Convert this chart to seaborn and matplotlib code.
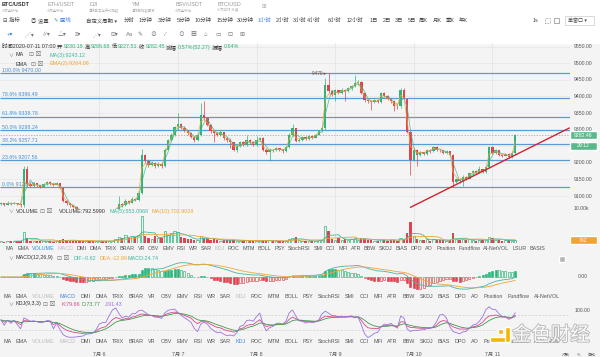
import numpy as np
import pandas as pd
import matplotlib
matplotlib.use("Agg")
import matplotlib.pyplot as plt
import matplotlib.patheffects as pe
from matplotlib.patches import Rectangle
import seaborn as sns

# hourly BTC/USDT candles, 2020-07-04 18:00 -> 2020-07-11 07:00
opens = [9076, 9078, 9074, 9080, 9076, 9079, 9075, 9072, 9180, 9135,
         9130, 9138, 9132, 9128, 9135, 9142, 9136, 9134, 9138, 9124,
         9085, 9078, 9072, 9068, 9058, 9052, 9048, 9055, 9050, 9045,
         9050, 9056, 9052, 9048, 9054, 9058, 9062, 9075, 9072, 9085,
         9080, 9092, 9088, 9110, 9225, 9205, 9195, 9200, 9192, 9198,
         9190, 9240, 9268, 9285, 9308, 9318, 9306, 9298, 9290, 9278,
         9270, 9285, 9345, 9335, 9315, 9295, 9290, 9285, 9292, 9275,
         9270, 9262, 9240, 9250, 9262, 9255, 9270, 9262, 9255, 9270,
         9274, 9240, 9234, 9240, 9238, 9244, 9240, 9236, 9248, 9285,
         9305, 9265, 9270, 9278, 9272, 9280, 9276, 9285, 9298, 9305,
         9435, 9415, 9405, 9418, 9410, 9420, 9415, 9425, 9430, 9440,
         9445, 9410, 9388, 9385, 9383, 9388, 9384, 9410, 9402, 9392,
         9385, 9372, 9370, 9420, 9392, 9293, 9210, 9240, 9225, 9232,
         9228, 9240, 9236, 9248, 9240, 9238, 9230, 9235, 9225, 9143,
         9150, 9145, 9158, 9152, 9168, 9175, 9170, 9180, 9172, 9188,
         9248, 9230, 9238, 9225, 9222, 9228, 9218, 9230.18]
highs = [9082, 9080, 9084, 9082, 9083, 9080, 9077, 9192, 9190, 9140,
         9142, 9140, 9134, 9140, 9146, 9144, 9140, 9142, 9140, 9126,
         9088, 9080, 9074, 9070, 9060, 9056, 9058, 9057, 9052, 9054,
         9059, 9058, 9054, 9057, 9060, 9065, 9100, 9080, 9090, 9088,
         9096, 9094, 9114, 9242, 9228, 9208, 9205, 9202, 9202, 9200,
         9244, 9272, 9290, 9312, 9350, 9320, 9310, 9300, 9292, 9282,
         9290, 9380, 9385, 9338, 9318, 9298, 9294, 9298, 9294, 9279,
         9274, 9264, 9254, 9266, 9265, 9285, 9272, 9265, 9280, 9278,
         9278, 9244, 9244, 9243, 9248, 9246, 9242, 9252, 9290, 9318,
         9306, 9274, 9282, 9280, 9284, 9282, 9288, 9300, 9310, 9455,
         9470, 9420, 9422, 9420, 9424, 9422, 9428, 9434, 9465, 9450,
         9448, 9412, 9392, 9388, 9392, 9390, 9414, 9412, 9404, 9394,
         9388, 9376, 9425, 9424, 9395, 9296, 9244, 9242, 9236, 9234,
         9243, 9242, 9250, 9250, 9243, 9240, 9238, 9236, 9226, 9153,
         9155, 9162, 9160, 9170, 9178, 9178, 9190, 9182, 9190, 9252,
         9250, 9242, 9240, 9228, 9230, 9230, 9232, 9286.68]
lows = [9072, 9070, 9072, 9074, 9075, 9072, 9068, 9068, 9128, 9126,
        9128, 9128, 9124, 9126, 9133, 9132, 9130, 9132, 9120, 9082,
        9074, 9068, 9064, 9054, 9048, 9044, 9046, 9046, 9040, 9042,
        9048, 9049, 9044, 9046, 9052, 9056, 9060, 9066, 9070, 9076,
        9078, 9084, 9086, 9106, 9200, 9188, 9192, 9186, 9188, 9184,
        9188, 9238, 9265, 9282, 9300, 9302, 9294, 9284, 9274, 9262,
        9266, 9282, 9330, 9310, 9290, 9262, 9280, 9282, 9270, 9264,
        9245, 9236, 9232, 9248, 9250, 9252, 9258, 9250, 9252, 9266,
        9236, 9228, 9206, 9234, 9236, 9236, 9230, 9234, 9244, 9282,
        9262, 9262, 9266, 9268, 9270, 9272, 9274, 9283, 9294, 9300,
        9410, 9400, 9385, 9406, 9406, 9385, 9412, 9420, 9428, 9436,
        9406, 9384, 9380, 9360, 9380, 9380, 9380, 9398, 9388, 9380,
        9355, 9362, 9366, 9388, 9290, 9162, 9205, 9190, 9220, 9224,
        9225, 9230, 9232, 9236, 9234, 9226, 9226, 9220, 9127, 9138,
        9140, 9130, 9148, 9150, 9164, 9166, 9168, 9168, 9170, 9186,
        9226, 9228, 9220, 9218, 9220, 9214, 9216, 9227.51]
closes = [9078, 9074, 9080, 9076, 9079, 9075, 9072, 9180, 9135, 9130,
          9138, 9132, 9128, 9135, 9142, 9136, 9134, 9138, 9124, 9085,
          9078, 9072, 9068, 9058, 9052, 9048, 9055, 9050, 9045, 9050,
          9056, 9052, 9048, 9054, 9058, 9062, 9075, 9072, 9085, 9080,
          9092, 9088, 9110, 9225, 9205, 9195, 9200, 9192, 9198, 9190,
          9240, 9268, 9285, 9308, 9318, 9306, 9298, 9290, 9278, 9270,
          9285, 9345, 9335, 9315, 9295, 9290, 9285, 9292, 9275, 9270,
          9262, 9240, 9250, 9262, 9255, 9270, 9262, 9255, 9270, 9274,
          9240, 9234, 9240, 9238, 9244, 9240, 9236, 9248, 9285, 9305,
          9265, 9270, 9278, 9272, 9280, 9276, 9285, 9298, 9305, 9435,
          9415, 9405, 9418, 9410, 9420, 9415, 9425, 9430, 9440, 9445,
          9410, 9388, 9385, 9383, 9388, 9384, 9410, 9402, 9392, 9385,
          9372, 9370, 9420, 9392, 9293, 9210, 9240, 9225, 9232, 9228,
          9240, 9236, 9248, 9240, 9238, 9230, 9235, 9225, 9143, 9150,
          9145, 9158, 9152, 9168, 9175, 9170, 9180, 9172, 9188, 9248,
          9230, 9238, 9225, 9222, 9228, 9218, 9230.18, 9282.45]
volumes = [520, 380, 610, 450, 700, 520, 480, 3150, 1600, 720,
           540, 610, 480, 520, 690, 560, 430, 510, 880, 1270,
           780, 540, 620, 700, 560, 480, 650, 520, 590, 610,
           480, 560, 670, 520, 610, 1300, 1900, 1400, 2300, 1500,
           2200, 1700, 2500, 7900, 2000, 1500, 1300, 2100, 1400, 1600,
           3500, 2400, 2800, 3500, 3300, 1800, 1400, 1100, 1300, 1000,
           900, 2100, 1600, 1200, 900, 1100, 800, 700, 900, 750,
           820, 1000, 700, 650, 600, 800, 560, 620, 700, 540,
           900, 700, 820, 480, 520, 450, 600, 700, 1300, 1500,
           1700, 800, 650, 560, 600, 520, 700, 850, 900, 5000,
           3500, 1300, 900, 1600, 800, 1100, 900, 1200, 1500, 1000,
           1400, 1200, 800, 900, 600, 700, 1300, 800, 700, 900,
           1000, 700, 1600, 1200, 2900, 6300, 2200, 1100, 800, 1000,
           1300, 700, 1100, 800, 900, 750, 600, 850, 2800, 1300,
           900, 1100, 800, 1200, 1000, 700, 900, 800, 1000, 1800,
           1400, 900, 800, 700, 750, 820, 600, 792.6]

fib_labels = ["100.0%", "78.6%", "61.8%", "50.0%", "38.2%", "23.6%", "0.0%"]
fib_prices = [9470.00, 9396.49, 9338.78, 9298.24, 9257.71, 9207.56, 9126.49]
trend_x = [125, 173.5]
trend_y = [9066, 9305]
day_pos = [30, 54, 78, 102, 126, 150]
day_labels = ["7月 6", "7月 7", "7月 8", "7月 9", "7月 10", "7月 11"]
price_ticks = [9550, 9500, 9450, 9400, 9350, 9300, 9250, 9200, 9150, 9100]
price_labels_shown = [9550, 9500, 9450, 9400, 9350, 9300, 9200, 9150, 9100]  # 9250 sits under the timer tag
last_price = 9282.46

ind_names = ["MA", "EMA", "VOLUME", "MACD", "DMI", "DMA", "TRIX", "BRAR", "VR", "OBV",
             "EMV", "RSI", "WR", "SAR", "KDJ", "ROC", "MTM", "BOLL", "PSY", "StochRSI",
             "SMI", "CCI", "MFI", "ATR", "BBW", "SKDJ", "BIAS", "DPO", "AO", "Position",
             "Fundflow", "AI-NetVOL"]
ind_extra = ["LSUR", "BASIS"]

sns.set_style("white")
plt.rcParams["font.family"] = ["Liberation Sans", "Noto Sans CJK SC", "DejaVu Sans"]
plt.rcParams["axes.unicode_minus"] = False

GREEN = "#2db57a"
RED = "#e0434f"
TEAL = "#3fb8a0"
ORANGE = "#f0a531"
FIB = "#5b9bd5"
TXT = "#333333"
GREY = "#777777"

# ---- indicators ----
df = pd.DataFrame({"o": opens, "h": highs, "l": lows, "c": closes, "v": volumes})
df["x"] = np.arange(len(df))
df["ma3"] = df["c"].rolling(3).mean()
df["ema2"] = df["c"].ewm(span=2, adjust=False).mean()
df["vma5"] = df["v"].rolling(5).mean()
df["vma10"] = df["v"].rolling(10).mean()
df["dif"] = df["c"].ewm(span=12, adjust=False).mean() - df["c"].ewm(span=26, adjust=False).mean()
df["dea"] = df["dif"].ewm(span=9, adjust=False).mean()
df["macd"] = 2 * (df["dif"] - df["dea"])
llv = df["l"].rolling(9, min_periods=1).min()
hhv = df["h"].rolling(9, min_periods=1).max()
rsv = (df["c"] - llv) / (hhv - llv) * 100
df["k"] = rsv.ewm(alpha=1 / 3, adjust=False).mean()
df["d"] = df["k"].ewm(alpha=1 / 3, adjust=False).mean()
df["j"] = 3 * df["k"] - 2 * df["d"]
up = df["c"] >= df["o"]
xs = df["x"]

W, H = 600, 357
XMIN, XMAX = -0.3, 173.7
fig = plt.figure(figsize=(6, 3.57), dpi=100, facecolor="#f4f4f4")


def box(x0, y0, x1, y1):
    ax = fig.add_axes([x0 / W, 1 - y1 / H, (x1 - x0) / W, (y1 - y0) / H])
    ax.set_facecolor("none")
    for s in ax.spines.values():
        s.set_visible(False)
    ax.tick_params(left=False, bottom=False, labelleft=False, labelbottom=False)
    return ax


def T(x, y, s, size=3.9, color=TXT, ha="left", va="center", **kw):
    return fig.text(x / W, 1 - y / H, s, fontsize=size, color=color, ha=ha, va=va, **kw)


def rect(x0, y0, x1, y1, color, z=-1, **kw):
    fig.add_artist(Rectangle((x0 / W, 1 - y1 / H), (x1 - x0) / W, (y1 - y0) / H,
                             transform=fig.transFigure, facecolor=color, zorder=z, **kw))


def seq(x, y, parts, size=3.9, gap=1.5):
    r = fig.canvas.get_renderer()
    for s, col in parts:
        t = T(x, y, s, size, col)
        x += t.get_window_extent(r).width + gap
    return x


def spread_row(y, words, x0, x1, active, size=3.9):
    r = fig.canvas.get_renderer()
    dim = {"VOLUME", "MACD", "KDJ"} - {active}
    ts = []
    for w in words:
        col = "#3d85e0" if w == active else ("#bbbbbb" if w in dim else "#555555")
        ts.append(T(0, y, w, size, col))
    widths = [t.get_window_extent(r).width for t in ts]
    gap = (x1 - x0 - sum(widths)) / (len(words) - 1)
    x = x0
    for t, w in zip(ts, widths):
        t.set_x(x / W)
        x += w + gap


# ---- header (white toolbar) ----
rect(0, 0, 600, 43, "white")
rect(0, 14, 600, 14.5, "#e6e6e6")
rect(0, 27, 600, 27.5, "#eeeeee")
tabs = [("BTC/USDT", "火币全球站", 2), ("ETH/USDT", "火币全球站", 47), ("DJI", "道琼斯工业平均指数", 89),
        ("YM", "道琼斯指数期货", 132), ("BSV/USDT", "火币全球站", 175), ("BTC/USD", "火币合约 永续", 217)]
for n, (name, sub, x) in enumerate(tabs):
    T(x, 4.5, name, 4, TXT if n == 0 else "#999999", weight="bold" if n == 0 else "normal")
    T(x, 10.5, sub, 2.4, "#aaaaaa")
T(262, 6, "⊞", 4, "#aaaaaa")

periods = [("⊟ 指标", 3), ("◎ 设置", 31), ("✎ 画线", 54), ("自定义周期 ▾", 86), ("分时", 124),
           ("1分钟", 139), ("3分钟", 158), ("5分钟", 177), ("10分钟", 195), ("15分钟", 217),
           ("30分钟", 237), ("1小时", 258), ("2小时", 276), ("3小时", 293), ("4小时", 307),
           ("6小时", 328), ("12小时", 347), ("1日", 370), ("2日", 383), ("3日", 395), ("5日", 408),
           ("周K", 419), ("月K", 433), ("季K", 446), ("年K", 459), ("1s", 533)]
for s, x in periods:
    T(x, 20.5, s, 3.9, "#3d85e0" if s in ("✎ 画线", "1小时") else "#444444")
# fullscreen / window icons as small outlined squares
rect(545, 18, 550, 23, "none", z=1, edgecolor="#888888", linewidth=0.5, linestyle=(0, (1, 1)))
rect(554, 18, 559, 23, "none", z=1, edgecolor="#888888", linewidth=0.5)
rect(565, 16, 594, 25, "white", z=1, edgecolor="#cccccc", linewidth=0.5)
T(568, 20.5, "单窗口 ▾", 3.6, "#444444")

tools = [("+▾", 7, "#3d85e0"), ("╱▾", 25, GREY), ("∥▾", 42, GREY), ("△▾", 58, GREY), ("≡▾", 75, GREY),
         ("⋰▾", 92, GREY), ("⊟▾", 110, GREY), ("Aa", 126, GREY), ("✎", 137, GREY), ("⊘", 150, GREY),
         ("∕", 164, GREY), ("⊙", 178, GREY), ("▦", 190, GREY), ("⌂", 203, GREY), ("▭", 215, GREY),
         ("⊡", 227, GREY), ("⊞", 239, GREY)]
for s, x, c in tools:
    T(x, 34.5, s, 4.2, c)

# ---- main price panel ----
ax = box(0, 43, 570, 209)
ax.hlines(price_ticks, XMIN, XMAX, color="#e6e6e6", lw=0.5, zorder=0)
ax.vlines(day_pos, 9000, 9600, color="#e2e2e2", lw=0.5, zorder=0)
ax.hlines(fib_prices, XMIN, XMAX, color=FIB, lw=0.9, zorder=1)
for lab, p in zip(fib_labels, fib_prices):
    ax.text(XMIN + 0.5, p + 2, f"{lab} {p:.2f}", fontsize=3.8, color="#4a8fd6", va="bottom", zorder=2)
ax.axhline(last_price, color="#a0a0a0", lw=0.5, ls=(0, (2, 2)), zorder=1)
cols = np.where(up, GREEN, RED)
ax.vlines(xs, df["l"], df["h"], colors=cols, lw=0.5, zorder=3)
body = (df["c"] - df["o"]).abs().clip(lower=1.5)
ax.bar(xs, body, bottom=df[["o", "c"]].min(axis=1), width=0.72, color=cols, linewidth=0, zorder=3)
sns.lineplot(x=xs, y=df["ma3"], ax=ax, color=TEAL, lw=0.6, alpha=0.8, zorder=4)
sns.lineplot(x=xs, y=df["ema2"], ax=ax, color=ORANGE, lw=0.6, alpha=0.8, zorder=4)
sns.lineplot(x=trend_x, y=trend_y, ax=ax, color="#cc2536", lw=1.0, zorder=5)
ax.text(99.3, 9470, "9470 ▸", fontsize=3.4, color="#555555", ha="right", va="center")
ax.set(xlabel="", ylabel="", xlim=(XMIN, XMAX), ylim=(9061, 9561))

# ---- volume ----
axv = box(0, 209, 570, 243)
axv.vlines(day_pos, 0, 12000, color="#e2e2e2", lw=0.5, zorder=0)
axv.bar(xs[up], df["v"][up], width=0.7, facecolor="none", edgecolor=GREEN, linewidth=0.5)
axv.bar(xs[~up], df["v"][~up], width=0.7, color=RED, linewidth=0)
sns.lineplot(x=xs, y=df["vma5"], ax=axv, color=TEAL, lw=0.6)
sns.lineplot(x=xs, y=df["vma10"], ax=axv, color=ORANGE, lw=0.6)
axv.set(xlabel="", ylabel="", xlim=(XMIN, XMAX), ylim=(0, 10000))

# ---- MACD ----
axm = box(0, 262, 570, 292)
hist = df["macd"]
grow = hist.abs() >= hist.shift(1).fillna(0).abs()
for mask, fc, ec in [((hist >= 0) & grow, GREEN, GREEN), ((hist >= 0) & ~grow, "none", GREEN),
                     ((hist < 0) & grow, RED, RED), ((hist < 0) & ~grow, "none", RED)]:
    axm.bar(xs[mask], hist[mask], width=0.62, facecolor=fc, edgecolor=ec, linewidth=0.45)
sns.lineplot(x=xs, y=df["dif"], ax=axm, color=TEAL, lw=0.6)
sns.lineplot(x=xs, y=df["dea"], ax=axm, color=ORANGE, lw=0.6)
m = max(df["dif"].abs().max(), df["dea"].abs().max(), hist.abs().max()) * 1.05
axm.set(xlabel="", ylabel="", xlim=(XMIN, XMAX), ylim=(-m, m))

# ---- KDJ ----
axk = box(0, 305, 570, 338)
axk.hlines([80, 20], XMIN, XMAX, color="#d0d0d0", lw=0.5, ls=(0, (3, 2)))
sns.lineplot(x=xs, y=df["k"], ax=axk, color="#d9468a", lw=0.6)
sns.lineplot(x=xs, y=df["d"], ax=axk, color="#3f9a4a", lw=0.6)
sns.lineplot(x=xs, y=df["j"], ax=axk, color="#9d70e0", lw=0.6)
axk.set(xlabel="", ylabel="", xlim=(XMIN, XMAX), ylim=(-12, 120))
axk.set_xticks(day_pos)
axk.set_xticklabels(day_labels)
axk.tick_params(axis="x", labelbottom=True, bottom=False, pad=6.3, labelsize=3.8, labelcolor="#555555")

# ---- legends / info ----
seq(2, 47, [("时间2020-07-11 07:00", TXT), ("开", TXT), ("9230.18", GREEN), ("高", TXT), ("9286.68", GREEN),
            ("低", TXT), ("9227.51", GREEN), ("收", TXT), ("9282.45", GREEN), ("涨幅", TXT),
            ("0.57%(52.27)", GREEN), ("振幅", TXT), ("0.64%", GREEN)], gap=1.2)
T(8, 55, "∨", 3.6, GREY)
T(16, 55, "MA", 3.9, TXT)
T(29, 55, "⊡ ⊠", 4.2, GREY)
T(50, 55, "MA(3):9243.12", 3.9, TEAL)
T(16, 64, "EMA", 3.9, TXT)
T(31, 64, "⊡ ⊠", 4.2, GREY)
T(50, 64, "EMA(2):9264.08", 3.9, ORANGE)

T(8, 211.5, "∨", 3.6, GREY)
T(16, 211.5, "VOLUME", 3.9, TXT)
T(40, 211.5, "⊡ ⊠", 4.2, GREY)
T(59, 211.5, "VOLUME:792.5990", 3.9, TXT)
T(109, 211.5, "MA(5):553.0968", 3.9, TEAL)
T(152, 211.5, "MA(10):702.9028", 3.9, ORANGE)

T(8, 258, "∨", 3.6, GREY)
T(15, 258, "MACD(12,26,9)", 3.9, TXT)
T(57, 258, "⊡ ⊠", 4.2, GREY)
T(74, 258, "DIF:-0.62", 3.9, TEAL)
T(100, 258, "DEA:-12.99", 3.9, ORANGE)
T(128, 258, "MACD:24.74", 3.9, TEAL)

T(8, 304, "∨", 3.6, GREY)
T(15, 304, "KDJ(9,3,3)", 3.9, TXT)
T(43, 304, "⊡ ⊠", 4.2, GREY)
T(61, 304, "K:79.66", 3.9, "#d9468a")
T(82, 304, "D:73.77", 3.9, "#3f9a4a")
T(105, 304, "J:91.43", 3.9, "#9d70e0")

spread_row(248.5, ind_names + ind_extra, 6, 545, "VOLUME")
spread_row(296, ind_names, 3, 560, "MACD")
spread_row(341.5, ind_names, 3, 560, "KDJ")
rect(559, 256, 565, 262, "#b5b5b5", z=2)

# ---- right axis ----
for p in price_labels_shown:
    T(574, 43 + (9561 - p) * 0.332, f"{p:.2f}", 3.7, "#555555")
T(574, 209, "10.00k", 3.7, "#555555")
T(578, 277, "0.00", 3.7, "#555555")
T(575, 310, "100.00", 3.7, "#555555")
rect(570, 131.5, 597, 139.5, "#5cb88a", z=4)
T(583.5, 135.5, "9282.46", 3.7, "white", ha="center", zorder=5)
rect(570, 141.5, 597, 149.5, "#5cb88a", z=4)
T(583.5, 145.5, "29:12", 3.7, "white", ha="center", zorder=5)
rect(570, 236, 597, 244, "#f0a531", z=4)
T(583.5, 240, "792", 3.7, "white", ha="center", zorder=5)

# ---- watermark + bottom buttons ----
rect(490, 337, 510, 342, "#f2b705", z=6)
rect(505, 327, 510, 342, "#f2b705", z=6)
rect(498, 329, 503, 334, "#f2b705", z=6)
T(512, 335.5, "金色财经", 14, "white", zorder=6, alpha=0.95,
  path_effects=[pe.Stroke(linewidth=1.3, foreground="#b5b5b5"), pe.Normal()])
T(562, 355, "对数", 2.9, "#555555", zorder=7)
T(577, 355, "%", 2.9, "#555555", zorder=7)
T(587, 355, "自动", 2.9, "#555555", zorder=7)

fig.savefig("out.png", dpi=100, facecolor=fig.get_facecolor())
